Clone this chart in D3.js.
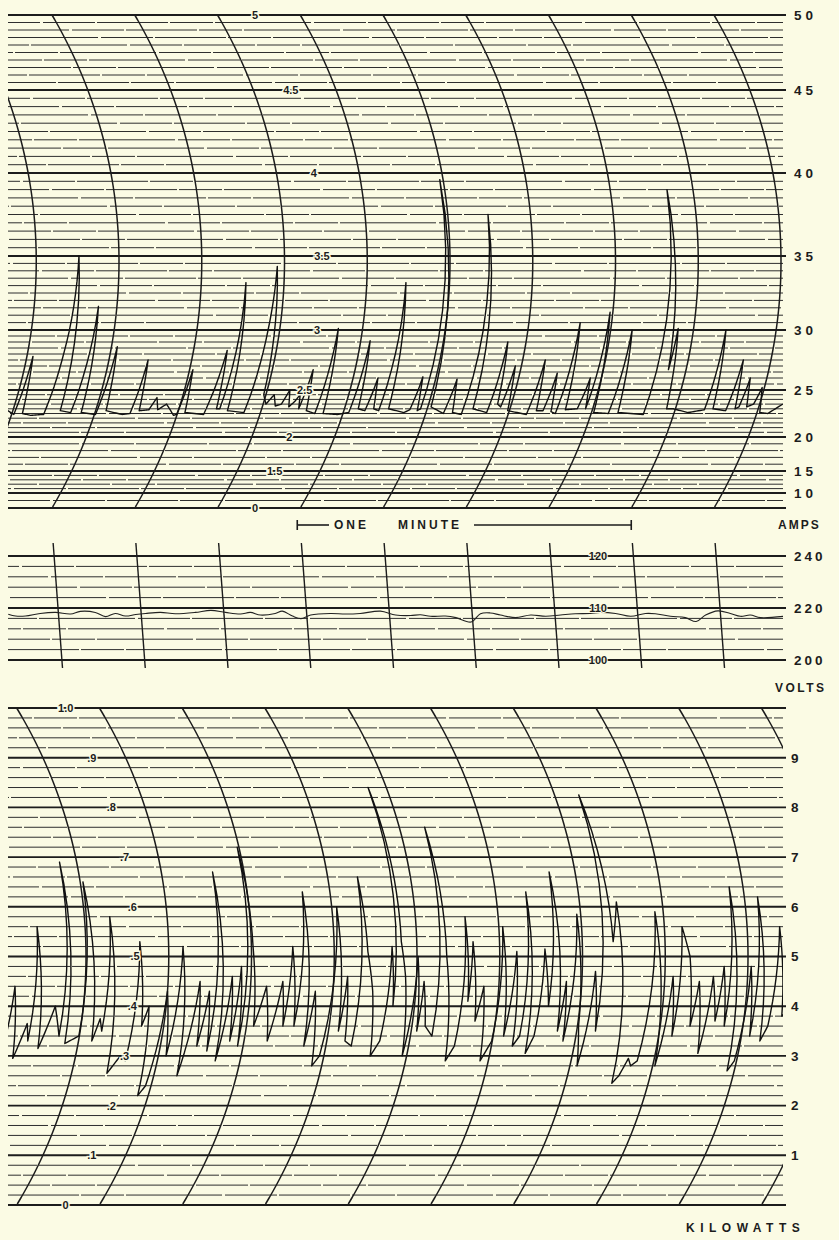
<!DOCTYPE html>
<html>
<head>
<meta charset="utf-8">
<script src="https://cdnjs.cloudflare.com/ajax/libs/d3/7.8.5/d3.min.js"></script>
<style>
  body { margin: 0; background: #fbfbe4; }
  svg { display: block; }
  .lbl { font-family: "Liberation Sans", Arial, sans-serif; font-weight: bold; fill: #1c1c1c; }
</style>
</head>
<body>
<div id="chart"></div>
<script>
// ---- recorder traces (seconds from each chart's first time line, reading) ----
const ampTime  = [-15.9,-14.6,-13.9,-13.1,-11.5,-9.2,-8.4,-7.25,-6.4,-4.4,-3.35,-2.5,0.2,1.05,1.9,5.0,6.4,7.1,7.9,9.6,10.4,11.2,12.5,14.4,14.9,15.6,16.3,19.8,21.1,21.8,22.4,23.1,23.9,27.0,27.9,28.7,29.6,30.5,31.5,32.3,33.3,34.1,34.8,35.6,36.2,36.7,37.4,38.2,39.9,40.6,41.4,44.0,46.0,46.7,47.5,48.8,49.5,50.3,51.3,52.1,53.0,56.0,56.9,57.6,58.3,58.8,59.4,60.6,63.2,63.9,64.8,66.5,67.3,68.3,71.0,71.7,72.5,73.2,73.9,74.7,78.3,79.1,79.9,81.1,81.8,82.6,83.5,84.3,85.1,87.2,88.0,88.7,89.5,90.4,93.1,93.9,94.8,99.5,100.3,101.8,102.2,103.4,104.6,107.5,110.3,110.9,111.8,114.2,115.0,115.8,116.4,117.0,117.8,118.9,119.6,120.5,122.0,124.2];
const ampValue = [22.8,22.4,27.8,22.5,22.3,22.4,28.2,35,22.8,22.6,31.6,22.6,22.4,28.6,22.8,22.4,22.5,27.5,22.8,22.9,24.2,22.9,23.5,22.3,22.4,26.7,22.6,22.4,28.3,23.0,23.0,33.2,22.8,22.6,30,34.3,24.5,23.5,24.5,23.3,23.5,25.0,23.2,23.8,24.5,23.0,26.7,22.8,22.5,30.1,22.5,22.4,22.6,29.1,23.0,22.8,26.0,23.0,22.8,33.2,23.0,22.6,22.9,26.1,22.8,23.0,39.6,23.2,22.5,25.9,22.6,22.4,37.5,23.0,22.6,29.0,23.5,23.2,27.0,22.8,22.4,27.5,22.8,22.8,26.4,22.7,22.5,30.5,22.9,23.0,26.0,23.0,31.2,22.6,22.5,30.0,22.6,22.4,39.0,26.7,30.1,23.0,23.0,22.6,22.9,30.0,23.0,22.8,27.5,23.0,23.2,26.0,23.2,23.5,25.2,22.6,22.5,23.5];

const voltTime  = [-9.1,-7.8,-6.0,-3.3,-0.5,2.2,4.0,6.7,8.5,10.3,12.1,14.0,15.8,18.5,21.2,24.8,27.7,30.3,33.0,34.8,36.6,39.3,40.6,42.4,43.9,45.7,49.3,52.0,54.7,58.4,61.1,63.8,65.6,67.4,70.1,72.0,74.7,76.5,78.3,80.1,82.8,85.6,88.3,91.0,93.7,96.4,98.2,101.0,103.7,106.4,108.2,110.9,113.6,115.5,117.3,119.6,121.8,123.6,125.4,127.2,131.4];
const voltValue = [217.6,216.9,216.9,217.9,218.3,217.7,218.7,218.3,216.7,217.9,216.9,217.5,217.9,218.3,217.8,218.3,219.1,218.3,217.7,218.3,217.3,217.9,218.8,216.9,215.9,217.3,217.9,217.7,217.9,218.8,217.3,217.1,217.4,216.8,216.9,216.3,214.6,217.8,218.1,217.3,216.3,217.3,216.8,217.3,217.8,217.9,218.3,217.9,216.8,217.9,217.8,216.8,216.3,214.8,217.3,218.9,217.9,216.8,217.3,216.3,216.8];

const kwTime  = [-13.5,-12.7,-11.3,-9.8,-9.2,-8.7,-7.1,-5.1,-3.7,-3.1,-2.4,-0.1,0.5,2.4,3.3,3.9,4.6,6.4,8.1,9.2,
  9.8,11.0,11.9,13.1,14.0,15.0,16.4,17.6,19.2,20.8,21.6,22.6,23.6,24.3,25.5,26.6,27.4,28.2,29.0,29.7,
  30.3,31.3,32.9,34.2,35.8,36.6,37.5,38.6,40.0,41.0,41.8,43.2,44.2,45.9,46.8,47.5,48.3,49.6,50.4,51.1,
  52.2,53.4,54.6,55.5,56.1,56.7,56.9,57.2,58.0,59.2,60.2,61.0,61.4,62.4,63.9,64.6,65.4,67.2,68.3,69.0,
  69.6,70.2,71.3,72.3,73.5,74.9,75.7,76.9,78.1,78.8,79.8,80.5,81.4,82.4,83.2,84.3,85.3,86.5,87.2,87.8,
  89.3,90.2,91.3,92.4,93.4,94.4,95.6,96.7,98.4,99.3,100.3,101.0,102.0,103.5,104.3,105.4,106.5,107.4,108.2,109.5,
  110.4,111.3,112.7,113.8,114.8,115.7,116.6,117.5,118.7,119.6,120.6,121.5,122.4,123.5,124.5,125.9,126.8,128.4];
const kwValue = [3.1,4.4,2.95,3.65,3.3,5.6,3.15,4.0,3.4,6.9,3.25,3.4,6.5,3.3,3.75,3.5,5.8,2.65,3.0,2.9,
  5.3,3.6,4.0,2.2,2.4,4.3,3.0,5.2,2.6,4.5,3.2,4.3,3.1,6.7,2.9,4.6,3.3,4.8,3.2,7.2,
  5.2,3.6,4.4,3.3,4.5,3.6,5.2,3.6,6.3,3.2,4.3,2.8,3.0,6.0,3.5,4.6,3.3,3.2,6.6,5.1,
  4.3,3.0,3.3,5.2,4.0,8.4,7.3,5.3,4.6,3.0,5.0,3.5,4.5,3.6,3.4,7.6,5.0,2.9,3.2,5.8,
  4.1,5.3,3.7,4.4,2.9,3.3,5.6,3.4,5.1,3.2,3.4,6.3,3.05,3.4,5.15,4.0,6.7,3.5,4.5,3.3,
  5.85,3.6,2.8,4.7,3.5,8.25,5.3,6.1,2.45,2.6,2.95,2.8,2.9,5.9,4.6,2.8,4.6,3.4,5.6,5.0,
  3.6,4.5,3.05,4.6,3.7,4.8,3.6,6.4,2.7,2.9,4.8,3.4,6.2,3.3,3.6,5.6,3.8,4.0];

// ---- scale markings ----
const ampMajor = [0, 10, 15, 20, 25, 30, 35, 40, 45, 50];
const ampRightTicks = [10, 15, 20, 25, 30, 35, 40, 45, 50];
const ampInnerTicks = [0, 15, 20, 25, 30, 35, 40, 45, 50];
const ampInnerText  = ["0", "1.5", "2", "2.5", "3", "3.5", "4", "4.5", "5"];

const voltMajor = [200, 220, 240];
const voltInnerText = ["100", "110", "120"];

const kwMajor = d3.range(0, 11);
const kwRightTicks = [1, 2, 3, 4, 5, 6, 7, 8, 9];
const kwInnerText = ["0", ".1", ".2", ".3", ".4", ".5", ".6", ".7", ".8", ".9", "1.0"];

const paper = "#fbfbe4", ink = "#1c1c1c";
const W = 839, H = 1240, left = 8, right = 783;

const svg = d3.select("#chart").append("svg").attr("width", W).attr("height", H);
svg.append("rect").attr("width", W).attr("height", H).attr("fill", paper);

// 15 s between chart time lines
const secX = d3.scaleLinear().domain([0, 15]).range([0, 82.75]);

const amps = {
  id: "amps",
  y: d3.scaleLinear().domain(ampMajor).range([508, 493, 471, 437, 390, 330, 256, 173, 90, 15]),
  vx: 119, R: 487, arcs: d3.range(-2, 10),
  minor: d3.range(20, 50, 0.5).concat(d3.range(10, 20, 1), [5]),
  major: ampMajor
};
const kw = {
  id: "kw",
  y: d3.scaleLinear().domain([0, 10]).range([1205, 708]),
  vx: 86, R: 480, arcs: d3.range(-1, 11),
  minor: d3.range(0, 10, 0.2),
  major: kwMajor
};
[amps, kw].forEach(p => {
  const r = p.y.range();
  p.top = d3.min(r); p.bottom = d3.max(r);
  p.yc = (p.top + p.bottom) / 2;
});

// pen arm swings on an arc: horizontal shift for a given height
const bend = (p, y) => Math.sqrt(p.R * p.R - (y - p.yc) * (y - p.yc)) - p.R;
const penX = (p, t, y) => p.vx + secX(t) + bend(p, y);

const line = d3.line().x(d => d[0]).y(d => d[1]);

function clipFor(id, y0, y1) {
  svg.append("clipPath").attr("id", "clip-" + id)
    .append("rect").attr("x", left).attr("y", y0).attr("width", right - left).attr("height", y1 - y0);
  return "url(#clip-" + id + ")";
}

// trace: subdivide each segment so fast pen moves follow the arc
function tracePoints(p, times, values, xf) {
  const pts = [];
  const n = Math.min(times.length, values.length);
  for (let i = 0; i < n - 1; i++) {
    const steps = 8;
    for (let s = 0; s < steps; s++) {
      const t = times[i] + (times[i + 1] - times[i]) * s / steps;
      const v = values[i] + (values[i + 1] - values[i]) * s / steps;
      const y = p.y(v);
      pts.push([xf(t, y), y]);
    }
  }
  const y = p.y(values[n - 1]);
  pts.push([xf(times[n - 1], y), y]);
  return pts;
}

// printed ruling, slightly broken like the original chart paper
function ruling(g, values, y, x2) {
  g.selectAll(null).data(values).join("line")
    .attr("x1", left).attr("x2", x2)
    .attr("y1", d => y(d)).attr("y2", d => y(d))
    .attr("stroke", "#2e2e2e").attr("stroke-width", 1)
    .attr("stroke-dasharray", "71,2,43,2,96,3,52,2")
    .attr("stroke-dashoffset", (d, i) => i * 29);
}

function drawArcPanel(p) {
  const g = svg.append("g");
  const minor = p.minor.filter(v => !p.major.includes(+v.toFixed(2)));
  ruling(g, minor, p.y, right);
  g.selectAll(".major").data(p.major).join("line")
    .attr("x1", left).attr("x2", right + 3)
    .attr("y1", d => p.y(d)).attr("y2", d => p.y(d))
    .attr("stroke", ink).attr("stroke-width", 1.9);

  const clip = clipFor(p.id, p.top - 1, p.bottom + 1);
  const ys = d3.range(p.top, p.bottom + 0.1, 2);
  g.append("g").attr("clip-path", clip)
    .selectAll("path").data(p.arcs).join("path")
    .attr("d", k => line(ys.map(y => [penX(p, 15 * k, y), y])))
    .attr("fill", "none").attr("stroke", ink).attr("stroke-width", 1.5);
  return { g, clip };
}

// ---------- AMPS ----------
const a = drawArcPanel(amps);
a.g.append("path")
  .attr("clip-path", a.clip)
  .attr("d", line(tracePoints(amps, ampTime, ampValue, (t, y) => penX(amps, t, y))))
  .attr("fill", "none").attr("stroke", "#111").attr("stroke-width", 1.4)
  .attr("stroke-linejoin", "round");

svg.selectAll(".ampR").data(ampRightTicks).join("text")
  .attr("class", "lbl").attr("x", 794).attr("y", d => amps.y(d)).attr("dy", "0.36em")
  .attr("font-size", 13.5).attr("letter-spacing", "4px").text(d => d);

svg.selectAll(".ampIn").data(ampInnerTicks).join("text")
  .attr("class", "lbl").attr("text-anchor", "middle")
  .attr("x", d => 322 + bend(amps, amps.y(d))).attr("y", d => amps.y(d)).attr("dy", "0.36em")
  .attr("font-size", 11).attr("stroke", paper).attr("stroke-width", 3).attr("paint-order", "stroke")
  .text((d, i) => ampInnerText[i]);

// one minute bar (four chart divisions)
const barY = 525;
const barX0 = penX(amps, 45, amps.top) - 3, barX1 = penX(amps, 105, amps.top);
[[barX0, 329], [474, barX1]].forEach(s => svg.append("line")
  .attr("x1", s[0]).attr("x2", s[1]).attr("y1", barY).attr("y2", barY)
  .attr("stroke", ink).attr("stroke-width", 1.6));
[barX0, barX1].forEach(x => svg.append("line").attr("x1", x).attr("x2", x)
  .attr("y1", barY - 5).attr("y2", barY + 5).attr("stroke", ink).attr("stroke-width", 1.6));
svg.append("text").attr("class", "lbl").attr("x", 334).attr("y", barY).attr("dy", "0.36em")
  .attr("font-size", 12).attr("letter-spacing", "3px").text("ONE");
svg.append("text").attr("class", "lbl").attr("x", 398).attr("y", barY).attr("dy", "0.36em")
  .attr("font-size", 12).attr("letter-spacing", "3px").text("MINUTE");
svg.append("text").attr("class", "lbl").attr("x", 778).attr("y", barY).attr("dy", "0.36em")
  .attr("font-size", 12).attr("letter-spacing", "2px").text("AMPS");

// ---------- VOLTS ----------
const voltY = d3.scaleLinear().domain([200, 240]).range([660, 556]);
const voltMinor = d3.range(200, 240, 4).filter(v => !voltMajor.includes(v));
const vg = svg.append("g");
ruling(vg, voltMinor, voltY, right);
vg.selectAll(".vmajor").data(voltMajor).join("line")
  .attr("x1", left).attr("x2", right + 3).attr("y1", d => voltY(d)).attr("y2", d => voltY(d))
  .attr("stroke", ink).attr("stroke-width", 1.9);
const voltMid = (voltY(200) + voltY(240)) / 2;
const voltX = (t, y) => 58 + secX(t) + (y - voltMid) * 0.075;
vg.selectAll(".vtime").data(d3.range(0, 9)).join("path")
  .attr("d", k => line([[voltX(15 * k, 543), 543], [voltX(15 * k, 668), 668]]))
  .attr("stroke", ink).attr("stroke-width", 1.4);
const vclip = clipFor("volts", 540, 670);
const voltLine = d3.line().curve(d3.curveCatmullRom);
vg.append("path").attr("clip-path", vclip)
  .attr("d", voltLine(voltTime.map((t, i) => [voltX(t, voltY(voltValue[i])), voltY(voltValue[i])])))
  .attr("fill", "none").attr("stroke", "#222").attr("stroke-width", 1.1);

svg.selectAll(".voltR").data(voltMajor).join("text")
  .attr("class", "lbl").attr("x", 794).attr("y", d => voltY(d)).attr("dy", "0.36em")
  .attr("font-size", 13.5).attr("letter-spacing", "3px").text(d => d);
svg.selectAll(".voltIn").data(voltMajor).join("text")
  .attr("class", "lbl").attr("text-anchor", "middle")
  .attr("x", 598).attr("y", d => voltY(d)).attr("dy", "0.36em")
  .attr("font-size", 11).attr("stroke", paper).attr("stroke-width", 2).attr("paint-order", "stroke")
  .text((d, i) => voltInnerText[i]);
svg.append("text").attr("class", "lbl").attr("x", 775).attr("y", 688).attr("dy", "0.36em")
  .attr("font-size", 12).attr("letter-spacing", "2.5px").text("VOLTS");

// ---------- KILOWATTS ----------
const k = drawArcPanel(kw);
k.g.append("path")
  .attr("clip-path", k.clip)
  .attr("d", line(tracePoints(kw, kwTime, kwValue, (t, y) => penX(kw, t, y))))
  .attr("fill", "none").attr("stroke", "#111").attr("stroke-width", 1.4)
  .attr("stroke-linejoin", "round");

svg.selectAll(".kwR").data(kwRightTicks).join("text")
  .attr("class", "lbl").attr("x", 791).attr("y", d => kw.y(d)).attr("dy", "0.36em")
  .attr("font-size", 13.5).text(d => d);
svg.selectAll(".kwIn").data(kwMajor).join("text")
  .attr("class", "lbl").attr("text-anchor", "middle")
  .attr("x", d => 135 + bend(kw, kw.y(d))).attr("y", d => kw.y(d)).attr("dy", "0.36em")
  .attr("font-size", 11).attr("stroke", paper).attr("stroke-width", 3).attr("paint-order", "stroke")
  .text((d, i) => kwInnerText[i]);
svg.append("text").attr("class", "lbl").attr("x", 686).attr("y", 1228).attr("dy", "0.36em")
  .attr("font-size", 12).attr("letter-spacing", "5.5px").text("KILOWATTS");
</script>
</body>
</html>
